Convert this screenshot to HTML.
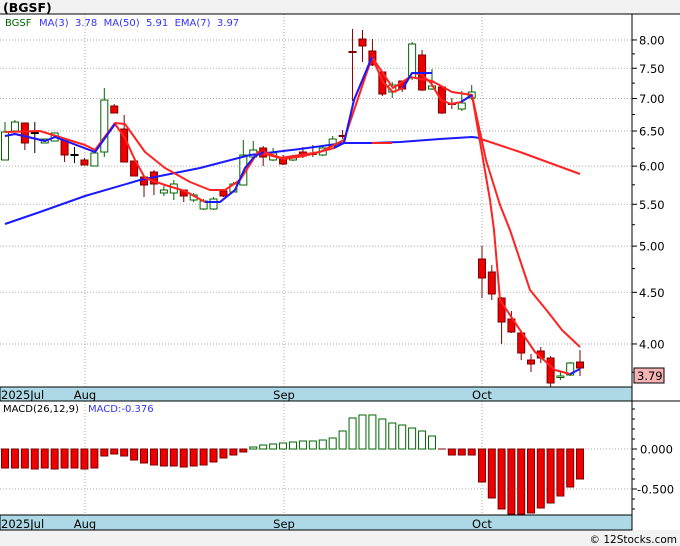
<!DOCTYPE html>
<html><head><meta charset="utf-8"><style>
body{margin:0;background:#fff}
svg{display:block;font-family:"DejaVu Sans","Liberation Sans",sans-serif}
</style></head><body>
<svg id="s" width="680" height="546" xmlns="http://www.w3.org/2000/svg">
<rect width="680" height="546" fill="#fff"/>
<rect width="680" height="14" fill="#f2f2f2"/>
<rect y="530" width="680" height="16" fill="#f2f2f2"/>
<text x="3" y="12" font-size="12.5" font-weight="bold" fill="#000">(BGSF)</text>
<text x="5" y="26" font-size="10" fill="#006400">BGSF</text>
<text x="39" y="26" font-size="10" fill="#3333ff" xml:space="preserve">MA(3)  3.78  MA(50)  5.91  EMA(7)  3.97</text>
<text x="3" y="412" font-size="10" fill="#000">MACD(26,12,9)</text>
<text x="88" y="412" font-size="10" fill="#3333ff">MACD:-0.376</text>
<text x="677" y="543" font-size="10.5" fill="#000" text-anchor="end">© 12Stocks.com</text>
<g id="g"></g>
</svg>
<script>
const g=document.getElementById('g');let h='';
const Y=p=>952-438.6*Math.log(p);
[8,7.5,7,6.5,6,5.5,5,4.5,4].forEach(p=>{const y=Y(p);h+=`<line x1="0" x2="632" y1="${y}" y2="${y}" stroke="#aaa" stroke-dasharray="1,2"/>`;h+=`<line x1="632" x2="637" y1="${y}" y2="${y}" stroke="#000"/>`;h+=`<text x="639" y="${y+4.5}" font-size="11.5">${p.toFixed(2)}</text>`});
[7.75,7.25,6.75,6.25,5.75,5.25,4.75,4.25,3.75].forEach(p=>{const y=Y(p);h+=`<line x1="632" x2="635" y1="${y}" y2="${y}" stroke="#000"/>`});
[85,284,482].forEach(x=>{h+=`<line x1="${x}" x2="${x}" y1="14" y2="387" stroke="#aaa" stroke-dasharray="1,2"/><line x1="${x}" x2="${x}" y1="401" y2="515" stroke="#aaa" stroke-dasharray="1,2"/>`});
[449,489].forEach((y,i)=>{h+=`<line x1="0" x2="632" y1="${y}" y2="${y}" stroke="#aaa" stroke-dasharray="1,2"/><line x1="632" x2="637" y1="${y}" y2="${y}" stroke="#000"/><text x="${i?637:640}" y="${y+4.5}" font-size="11.5">${i?'-0.500':'0.000'}</text>`});
[409,419,429,439,459,469,479,499,509].forEach(y=>h+=`<line x1="632" x2="635" y1="${y}" y2="${y}" stroke="#000"/>`);
const C=[[160,132,122,160,'g'],[131,122,120,131,'g'],[123,143,123,150,'r'],[133,133,122,153,'k'],[143,139,139,143,'g'],[141,133,133,141,'g'],[139,155,139,162,'r'],[155,155,147,163,'k'],[160,165,158,165,'r'],[166,153,153,166,'g'],[152,100,88,157,'g'],[106,113,104,113,'r'],[129,162,115,162,'r'],[161,176,161,176,'r'],[177,185,177,197,'r'],[172,184,170,195,'r'],[193,190,186,196,'g'],[193,184,180,200,'g'],[190,196,190,202,'r'],[200,195,193,202,'g'],[209,201,199,210,'g'],[209,199,197,210,'g'],[191,196,190,197,'r'],[192,184,182,192,'g'],[185,155,140,185,'g'],[157,150,141,160,'g'],[148,157,146,166,'r'],[160,153,148,161,'g'],[158,164,155,165,'r'],[160,158,155,161,'g'],[152,156,147,158,'r'],[154,156,145,157,'d'],[155,148,145,156,'g'],[146,139,136,147,'g'],[136,138,130,139,'d'],[52,53,29,101,'d'],[39,46,30,62,'r'],[51,65,39,66,'r'],[72,94,72,96,'r'],[92,85,82,98,'g'],[81,89,81,92,'r'],[78,44,42,80,'g'],[55,90,50,91,'r'],[89,86,69,90,'g'],[87,113,87,114,'r'],[104,106,98,109,'d'],[109,103,91,111,'g'],[98,92,85,100,'g'],[259,278,246,298,'r'],[272,294,265,300,'r'],[298,322,297,344,'r'],[319,332,311,333,'r'],[333,353,333,360,'r'],[360,364,354,372,'r'],[351,358,347,363,'r'],[358,383,356,387,'r'],[376,376,372,380,'g'],[375,363,362,376,'g'],[362,368,350,376,'r']];
const X=i=>i<48?5+i*9.93:482+(i-48)*9.8;
C.forEach((c,i)=>{const x=X(i);const[o,cl,hi,lo,t]=c;const top=Math.min(o,cl),bh=Math.max(1.5,Math.abs(o-cl));
const wc=t=='g'?'#006400':(t=='k'?'#000':'#7a0000');
h+=`<line x1="${x}" x2="${x}" y1="${hi}" y2="${lo}" stroke="${wc}"/>`;
if(t=='g')h+=`<rect x="${x-3.5}" y="${top}" width="7" height="${bh}" fill="#fff" stroke="#006400"/>`;
else if(t=='r')h+=`<rect x="${x-3.5}" y="${top}" width="7" height="${bh}" fill="#ee0000" stroke="#7a0000"/>`;
else h+=`<line x1="${x-4}" x2="${x+4}" y1="${top}" y2="${top}" stroke="${wc}" stroke-width="2"/>`;});
const pl=(pts,c,w)=>h+=`<polyline points="${pts}" fill="none" stroke="${c}" stroke-width="${w||2}" stroke-linejoin="round"/>`;
pl("5,224 40,212 85,196 140,180 200,168 250,155 300,149 344,143 372,143 400,142 440,139 472,137 480,138",'#1a1aff');
pl("372,143 392,143",'#ff2222');
pl("478,138 520,152 580,174",'#ff2222');
pl("5,132 40,131 85,145 95,150 115,123 125,124 145,152 165,168 190,182 210,190 225,190 240,180 258,152 280,158 320,152 344,140 372,57 393,88 410,77 432,81 452,92 472,95 486,160 500,205 510,230 530,290 548,312 562,330 580,347",'#ff2222');
pl("5,136 15,134 45,141 55,137 95,152 105,138 115,124 125,138 135,160 145,178 165,185 185,191 205,202 220,202 235,190 245,168 255,156 264,152 284,159 304,156 334,148 344,143 354,100 372,57 383,82 393,92 403,88 412,73 421,74 431,83 441,100 451,104 461,102 472,95 490,200 494,230 500,300 520,330 535,352 555,370 570,374",'#ff2222');
pl("5,136 15,134 45,141 55,137 95,152 105,138 115,124",'#1a1aff');
pl("205,202 220,202 235,190 245,168 255,156 264,152",'#1a1aff');
pl("334,148 344,143 354,100 372,57",'#1a1aff');
pl("403,88 412,73 432,73",'#1a1aff');
pl("461,102 472,95",'#1a1aff');
pl("570,374 580,369",'#1a1aff');
const M=[468,468,468,469,468,469,468,468,469,468,456,454,456,460,463,465,466,466,467,466,465,462,458,455,452,447,445,444,443,442,441,441,440,438,431,418,415,415,419,423,425,428,431,436,449,455,455,455,482,498,509,514,514,513,508,503,496,487,479];
M.forEach((v,i)=>{const x=X(i);if(Math.abs(v-449)<1.5){h+=`<line x1="${x-4}" x2="${x+4}" y1="449" y2="449" stroke="#7a0000"/>`;return;}
if(v<449)h+=`<rect x="${x-3.5}" y="${v}" width="7" height="${449-v}" fill="#fff" stroke="#006400"/>`;
else h+=`<rect x="${x-3.5}" y="449" width="7" height="${v-449}" fill="#ee0000" stroke="#7a0000"/>`;});
[[387,401],[515,530]].forEach(([a,b])=>{h+=`<rect x="0" y="${a}" width="632" height="${b-a}" fill="#add8e6" stroke="#000"/>`;
h+=`<text x="1" y="${b-2}" font-size="11.5">2025Jul</text><text x="85" y="${b-2}" font-size="11.5" text-anchor="middle">Aug</text><text x="284" y="${b-2}" font-size="11.5" text-anchor="middle">Sep</text><text x="482" y="${b-2}" font-size="11.5" text-anchor="middle">Oct</text>`;});
h+=`<line x1="632" x2="632" y1="14" y2="530" stroke="#000"/><line x1="0" x2="680" y1="14" y2="14" stroke="#000"/><line x1="632" x2="680" y1="401" y2="401" stroke="#000"/>`;
h+=`<rect x="634" y="368" width="30" height="15" fill="#f4b4b4" stroke="#000"/><text x="637" y="380" font-size="11.5">3.79</text>`;
g.innerHTML=h;
</script>
</body></html>
